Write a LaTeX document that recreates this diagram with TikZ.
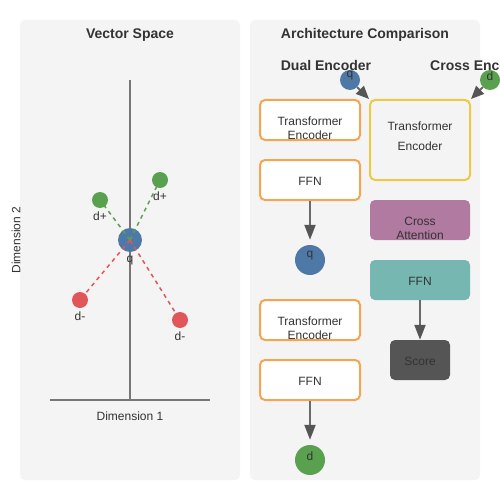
\documentclass[tikz,border=0pt]{standalone}
\usepackage{fontspec}
\setmainfont{Liberation Sans}
\usetikzlibrary{arrows.meta}
\definecolor{panel}{HTML}{F4F4F4}
\definecolor{txtc}{HTML}{333333}
\definecolor{axisc}{HTML}{777777}
\definecolor{qblue}{HTML}{4E79A7}
\definecolor{dgreen}{HTML}{59A14F}
\definecolor{dred}{HTML}{E15759}
\definecolor{orangec}{HTML}{F4A553}
\definecolor{yellowc}{HTML}{EDC948}
\definecolor{purplec}{HTML}{B07AA1}
\definecolor{tealc}{HTML}{76B7B2}
\definecolor{scorec}{HTML}{555555}
\definecolor{arrowc}{HTML}{6A6A6A}
\definecolor{headc}{HTML}{555555}
\tikzset{
  panelbox/.style={fill=panel, rounded corners=5pt, draw=none},
  title/.style={font=\bfseries\fontsize{14}{16}\selectfont, text=txtc, inner sep=0pt},
  lbl/.style={font=\fontsize{12}{14}\selectfont, text=txtc, inner sep=0pt, align=center},
  obox/.style={draw=orangec, line width=2pt, fill=white, rounded corners=5pt, minimum width=100pt, minimum height=40pt, inner sep=0pt},
  ybox/.style={draw=yellowc, line width=2pt, fill=none, rounded corners=5pt, minimum width=100pt, minimum height=80pt, inner sep=0pt},
  fbox/.style={draw=none, rounded corners=5pt, inner sep=0pt},
  dot/.style={circle, draw=none, inner sep=0pt},
  flow/.style={draw=arrowc, line width=2pt, shorten >=5pt, -{Triangle[length=15pt,width=11pt,color=headc]}},
  flowb/.style={draw=arrowc, line width=2pt, -{Triangle[length=15pt,width=11pt,color=headc]}},
  diag/.style={draw=arrowc, line width=2pt, -{Triangle[length=13pt,width=11pt,color=headc]}},
  gdash/.style={draw=dgreen, line width=1.5pt, dash pattern=on 4pt off 4pt},
  rdash/.style={draw=dred, line width=1.5pt, dash pattern=on 4pt off 4pt},
  axisline/.style={draw=axisc, line width=2pt},
}
\begin{document}
\begin{tikzpicture}[x=1pt,y=-1pt]
\useasboundingbox (0,0) rectangle (500,500);
\fill[white] (0,0) rectangle (500,500);
% panels
\path[panelbox] (20,20) rectangle (240,480);
\path[panelbox] (250,20) rectangle (480,480);
\node[title] (t1) at (130,35) {Vector Space};
\node[title] (t2) at (365,35) {Architecture Comparison};
% axes
\coordinate (ytop) at (130,80);
\coordinate (ybot) at (130,400);
\coordinate (xl) at (50,400);
\coordinate (xr) at (210,400);
\draw[axisline] (ytop) -- (ybot);
\draw[axisline] (xl) -- (xr);
\node[lbl] (dim1) at (130,416) {Dimension 1};
\node[lbl, rotate=90] (dim2) at (16,240) {Dimension 2};
% points
\node[dot, fill=qblue, minimum size=24pt] (q) at (130,240) {};
\node[dot, fill=dgreen, minimum size=16pt] (p1) at (100,200) {};
\node[dot, fill=dgreen, minimum size=16pt] (p2) at (160,180) {};
\node[dot, fill=dred, minimum size=16pt] (n1) at (80,300) {};
\node[dot, fill=dred, minimum size=16pt] (n2) at (180,320) {};
\draw[gdash] (q.center) -- (p1.center);
\draw[gdash] (q.center) -- (p2.center);
\draw[rdash] (q.center) -- (n1.center);
\draw[rdash] (q.center) -- (n2.center);
\node[lbl] (lq) at (130,261) {q};
\node[lbl] (lp1) at (100,216) {d+};
\node[lbl] (lp2) at (160,196) {d+};
\node[lbl] (ln1) at (80,316) {d-};
\node[lbl] (ln2) at (180,336) {d-};
% architecture headers
\node[title] (h1) at (326,65) {Dual Encoder};
\node[title, anchor=west] (h2) at (430,65) {Cross Encoder};
% dual encoder
\node[obox] (te1) at (310,120) {};
\node[lbl] (te1t) at (310,128) {Transformer\\Encoder};
\node[obox] (ffn1) at (310,180) {};
\node[lbl] (ffn1t) at (310,181) {FFN};
\node[dot, fill=qblue, minimum size=30pt] (qd) at (310,260) {};
\node[lbl] (qdt) at (310,256) {q};
\node[obox] (te2) at (310,320) {};
\node[lbl] (te2t) at (310,328) {Transformer\\Encoder};
\node[obox] (ffn2) at (310,380) {};
\node[lbl] (ffn2t) at (310,381) {FFN};
\node[dot, fill=dgreen, minimum size=30pt] (dd) at (310,460) {};
\node[lbl] (ddt) at (310,456) {d};
\draw[flow] (ffn1.south) -- (qd.north);
\draw[flow] (ffn2.south) -- (dd.north);
% cross encoder
\node[dot, fill=qblue, minimum size=20pt] (qc) at (350,80) {};
\node[lbl] (qct) at (350,76) {q};
\node[dot, fill=dgreen, minimum size=20pt] (dc) at (490,80) {};
\node[lbl] (dct) at (490,76) {d};
\node[ybox] (ce) at (420,140) {};
\node[lbl] (cet1) at (420,126) {Transformer};
\node[lbl] (cet2) at (420,146) {Encoder};
\node[fbox, fill=purplec, minimum width=100pt, minimum height=40pt] (ca) at (420,220) {};
\node[lbl] (cat) at (420,228) {Cross\\Attention};
\node[fbox, fill=tealc, minimum width=100pt, minimum height=40pt] (ffn3) at (420,280) {};
\node[lbl] (ffn3t) at (420,281) {FFN};
\node[fbox, fill=scorec, minimum width=60pt, minimum height=40pt] (sc) at (420,360) {};
\node[lbl] (sct) at (420,361) {Score};
\draw[flowb] (ffn3.south) -- (sc.north);
\draw[diag] (qc.south east) -- (ce.north west);
\draw[diag] (dc.south west) -- (ce.north east);
\end{tikzpicture}
\end{document}
